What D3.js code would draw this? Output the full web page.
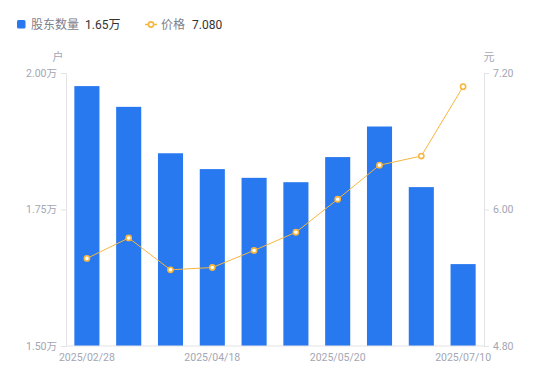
<!DOCTYPE html>
<html><head><meta charset="utf-8">
<script src="https://cdn.jsdelivr.net/npm/d3@7/dist/d3.min.js"></script>
<style>
html,body{margin:0;padding:0;background:#fff;}
svg{display:block;font-family:"Noto Sans CJK SC","Noto Sans",sans-serif;}
</style></head>
<body><svg id="c" width="550" height="381"></svg>
<script>
const dates = ["2025/02/28","2025/03/20","2025/03/31","2025/04/18","2025/04/30","2025/05/10","2025/05/20","2025/06/10","2025/06/30","2025/07/10"];
const holders = [1.976, 1.938, 1.853, 1.824, 1.808, 1.800, 1.846, 1.902, 1.791, 1.650];
const prices = [5.57, 5.75, 5.47, 5.49, 5.64, 5.80, 6.09, 6.39, 6.47, 7.08];
const leftTicks = [1.50, 1.75, 2.00];
const rightTicks = [4.80, 6.00, 7.20];
const shownDates = ["2025/02/28","2025/04/18","2025/05/20","2025/07/10"];

const svg = d3.select("#c");
const L = 66, R = 484, T = 73, B = 346;
const x = d3.scaleBand().domain(dates).range([L, R]).paddingInner(0.4).paddingOuter(0.2);
const yL = d3.scaleLinear().domain([1.5, 2.0]).range([B, T]);
const yR = d3.scaleLinear().domain([4.8, 7.2]).range([B, T]);
const axisCol = "#e3e3e6", textCol = "#a3a6b4";

// bars
svg.append("g").selectAll("rect").data(holders).join("rect")
  .attr("x", (d,i)=>x(dates[i])).attr("width", x.bandwidth())
  .attr("y", d=>yL(d)).attr("height", d=>B - yL(d))
  .attr("fill", "#2878f0");

// axes
const gl = svg.append("g").attr("transform", `translate(${L},0)`)
  .call(d3.axisLeft(yL).tickValues(leftTicks).tickSize(5).tickPadding(4).tickFormat(d=>d3.format(".2f")(d)+"万"));
const gr = svg.append("g").attr("transform", `translate(${R},0)`)
  .call(d3.axisRight(yR).tickValues(rightTicks).tickSize(5).tickPadding(4).tickFormat(d3.format(".2f")));
const gb = svg.append("g").attr("transform", `translate(0,${B})`)
  .call(d3.axisBottom(x).tickValues(shownDates).tickSize(0).tickPadding(8));
[gl, gr, gb].forEach(g=>{
  g.select(".domain").attr("stroke", axisCol);
  g.selectAll(".tick line").attr("stroke", axisCol);
  g.selectAll("text").attr("fill", textCol).style("font-size", "10.5px").style("font-family", "Roboto, 'Noto Sans CJK SC', sans-serif");
});
gb.select(".domain").attr("d", `M${L},0H${R}`);

// unit labels
svg.append("text").attr("x", 58).attr("y", 61).attr("text-anchor","middle").attr("fill", textCol).style("font-size","11px").text("户");
svg.append("text").attr("x", 489).attr("y", 61).attr("text-anchor","middle").attr("fill", textCol).style("font-size","11px").text("元");

// line
const lineCol = "#f7b63e";
const cx = (i)=>x(dates[i]) + x.bandwidth()/2;
svg.append("path").datum(prices)
  .attr("d", d3.line().x((d,i)=>cx(i)).y(d=>yR(d)))
  .attr("fill","none").attr("stroke", lineCol).attr("stroke-width", 1);
svg.append("g").selectAll("circle").data(prices).join("circle")
  .attr("cx",(d,i)=>cx(i)).attr("cy", d=>yR(d)).attr("r", 2.6)
  .attr("fill","#fff").attr("stroke", lineCol).attr("stroke-width", 1.6);

// legend
const lg = svg.append("g");
lg.append("rect").attr("x",17).attr("y",20).attr("width",8.5).attr("height",8.5).attr("rx",1.5).attr("fill","#2878f0");
lg.append("text").attr("x",31).attr("y",29).attr("fill","#7d808c").style("font-size","12px").text("股东数量");
lg.append("text").attr("x",85).attr("y",29).attr("fill","#333").style("font-size","12px").style("font-family","Roboto, 'Noto Sans CJK SC', sans-serif").text("1.65万");
lg.append("line").attr("x1",145).attr("x2",157).attr("y1",24.5).attr("y2",24.5).attr("stroke",lineCol).attr("stroke-width",1.5);
lg.append("circle").attr("cx",151).attr("cy",24.5).attr("r",2.6).attr("fill","#fff").attr("stroke",lineCol).attr("stroke-width",1.6);
lg.append("text").attr("x",161).attr("y",29).attr("fill","#7d808c").style("font-size","12px").text("价格");
lg.append("text").attr("x",192).attr("y",29).attr("fill","#333").style("font-size","12px").style("font-family","Roboto, 'Noto Sans CJK SC', sans-serif").text("7.080");
</script></body></html>
